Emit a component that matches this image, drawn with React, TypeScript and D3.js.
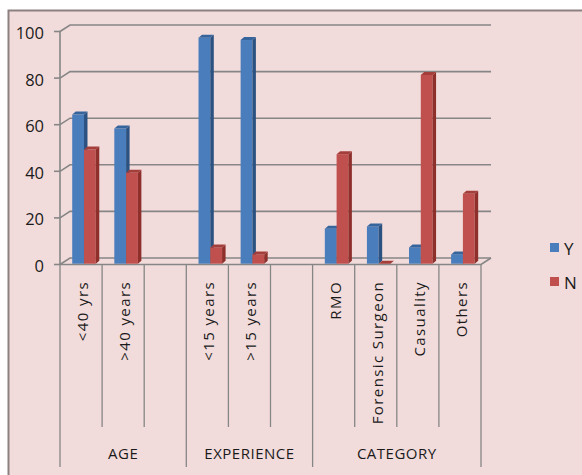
import React from "react";
import * as d3 from "d3";

const categories = ["<40 yrs", ">40 years", "", "<15 years", ">15 years", "", "RMO", "Forensic Surgeon", "Casuality", "Others"];
const groups = ["AGE", "EXPERIENCE", "CATEGORY"];
const groupSizes = [3, 3, 4];
const seriesNames = ["Y", "N"];
const yValues: (number | null)[] = [64, 58, null, 97, 96, null, 15, 16, 7, 4];
const nValues: (number | null)[] = [49, 39, null, 7, 4, null, 47, 0, 81, 30];
const yTicks = [0, 20, 40, 60, 80, 100];

const W = 582, H = 475;
const X0 = 60, X1 = 481;
const DX = 10, DY = -6.5;
const BDX = 3.5, BDY = -3;
const GRID = "#868686";
const FONT = "'Open Sans', 'DejaVu Sans', sans-serif";

const faces = {
  Y: { front: "#4a7dbb", side: "#2c5282", top: "#36649c" },
  N: { front: "#c0504d", side: "#8e2f2c", top: "#a43e3b" },
};

export default function App() {
  const x = d3.scaleBand<number>().domain(d3.range(categories.length)).range([X0, X1]).padding(0);
  const bw = x.bandwidth();
  const sub = d3.scaleBand<string>().domain(seriesNames).range([bw * 0.29, bw * 0.29 + bw * 0.56]).padding(0);
  const yF = d3.scaleLinear().domain([0, 100]).range([264.5, 31.5]);
  const yB = (v: number) => yF(v) - 0.8;

  const series = [
    { name: "Y", values: yValues },
    { name: "N", values: nValues },
  ];

  const groupStarts: number[] = [];
  let acc = 0;
  groupSizes.forEach((s) => { groupStarts.push(acc); acc += s; });

  const bars: React.ReactNode[] = [];
  categories.forEach((_, i) => {
    series.forEach((s) => {
      const v = s.values[i];
      if (v === null || v === undefined) return;
      const f = (faces as any)[s.name];
      const xa = (x(i) as number) + (sub(s.name) as number);
      const xb = xa + sub.bandwidth();
      const yt = yB(v);
      const y0 = yB(0);
      bars.push(
        <g key={`${s.name}-${i}`}>
          {v > 0 && <rect x={xa} y={yt} width={xb - xa} height={y0 - yt} fill={f.front} />}
          {v > 0 && (
            <polygon
              points={`${xb},${yt} ${xb + BDX},${yt + BDY} ${xb + BDX},${y0 + BDY} ${xb},${y0}`}
              fill={f.side}
            />
          )}
          <polygon
            points={`${xa},${yt} ${xa + BDX},${yt + BDY} ${xb + BDX},${yt + BDY} ${xb},${yt}`}
            fill={f.top}
          />
        </g>
      );
    });
  });

  return (
    <svg width={W} height={H} style={{ position: "absolute", left: 0, top: 0, display: "block" }}>
      <rect x={0} y={0} width={W} height={H} fill="#ffffff" />
      <rect x={8.5} y={10.5} width={700} height={600} fill="#f2dcdb" stroke="#8c8080" strokeWidth={2} />

      {yTicks.map((t) => (
        <path
          key={`g${t}`}
          d={`M${X0},${yF(t)} L${X0 + DX},${yF(t) + DY} L${X1 + DX},${yF(t) + DY}`}
          fill="none"
          stroke={GRID}
          strokeWidth={1.6}
        />
      ))}
      <path d={`M${X0},${yF(0)} L${X1},${yF(0)} L${X1 + DX},${yF(0) + DY}`} fill="none" stroke={GRID} strokeWidth={1.6} />

      {bars}

      <line x1={X0} x2={X0} y1={yF(0)} y2={yF(100)} stroke={GRID} strokeWidth={1.6} />
      {yTicks.map((t) => (
        <g key={`t${t}`}>
          <line x1={X0 - 6} x2={X0} y1={yF(t)} y2={yF(t)} stroke={GRID} strokeWidth={1.6} />
          <text x={44} y={yF(t) + 1} textAnchor="end" dominantBaseline="central" fontFamily={FONT} fontSize={16.5} fill="#1a1a1a">
            {t}
          </text>
        </g>
      ))}

      {d3.range(categories.length + 1).map((k) => {
        const xx = k < categories.length ? (x(k) as number) : X1;
        const isGroup = k === categories.length || groupStarts.includes(k);
        return (
          <line key={`d${k}`} x1={xx} x2={xx} y1={yF(0)} y2={isGroup ? 467 : 427} stroke={GRID} strokeWidth={1.3} />
        );
      })}

      {categories.map((c, i) => (
        <text
          key={`c${i}`}
          transform={`translate(${(x(i) as number) + bw / 2 + 1},281) rotate(-90)`}
          textAnchor="end"
          dominantBaseline="central"
          fontFamily={FONT}
          fontSize={15}
          letterSpacing={1.4}
          fill="#1a1a1a"
        >
          {c}
        </text>
      ))}

      {groups.map((g, gi) => {
        const a = x(groupStarts[gi]) as number;
        const endIdx = groupStarts[gi] + groupSizes[gi];
        const b = endIdx < categories.length ? (x(endIdx) as number) : X1;
        return (
          <text key={g} x={(a + b) / 2} y={453} textAnchor="middle" dominantBaseline="central" fontFamily={FONT} fontSize={15} letterSpacing={0.5} fill="#1a1a1a">
            {g}
          </text>
        );
      })}

      {seriesNames.map((s, i) => (
        <g key={`l${s}`} transform={`translate(550,${243 + i * 34})`}>
          <rect x={0} y={0} width={9} height={9} fill={(faces as any)[s].front} />
          <text x={14} y={5} dominantBaseline="central" fontFamily={FONT} fontSize={17} fill="#1a1a1a">
            {s}
          </text>
        </g>
      ))}
    </svg>
  );
}
